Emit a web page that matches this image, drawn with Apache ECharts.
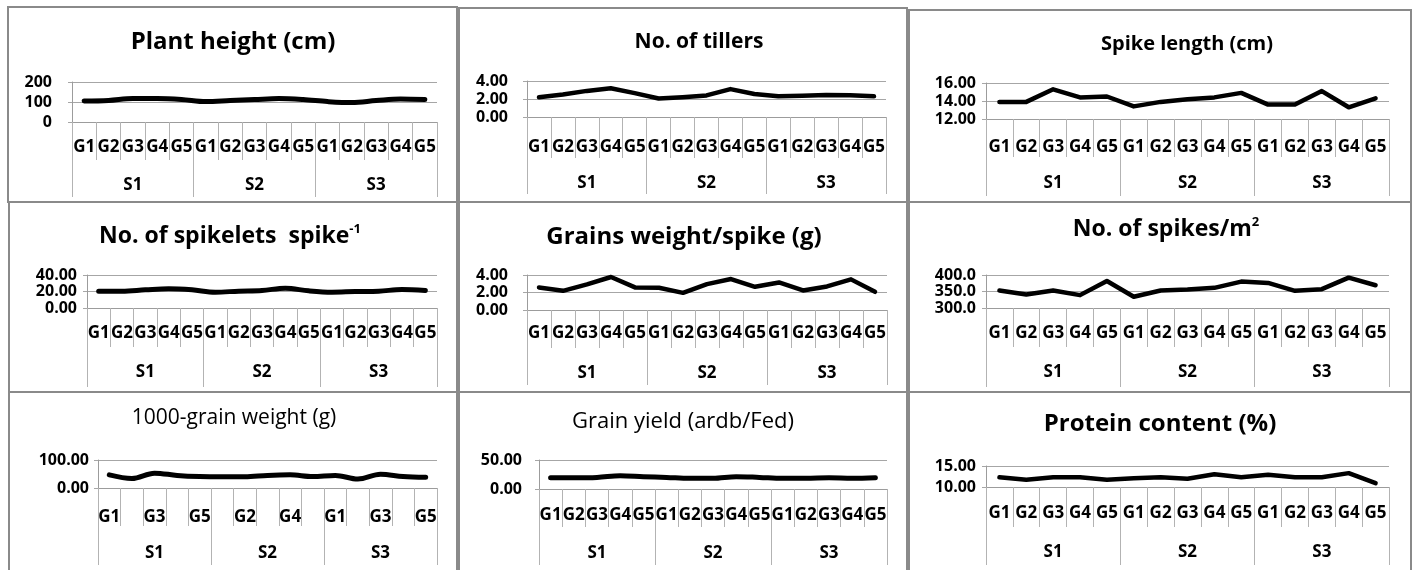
<!DOCTYPE html>
<html>
<head>
<meta charset="utf-8">
<script src="https://cdn.jsdelivr.net/npm/echarts@6/dist/echarts.min.js"></script>
<style>
  html, body { margin: 0; padding: 0; background: #fff; }
  #chart { width: 1420px; height: 570px; }
</style>
</head>
<body>
<div id="chart"></div>
<script>
// Category levels: genotypes nested inside sowing seasons
const genotypes = ['G1', 'G2', 'G3', 'G4', 'G5'];
const seasons = ['S1', 'S2', 'S3'];

// Trait means, ordered S1 G1..G5, S2 G1..G5, S3 G1..G5
const plantHeight       = [105, 108, 118, 118, 113, 102, 107, 112, 117, 112, 102, 97, 107, 115, 112];
const tillers           = [2.20, 2.50, 2.90, 3.20, 2.65, 2.05, 2.20, 2.40, 3.10, 2.55, 2.30, 2.35, 2.45, 2.42, 2.30];
const spikeLength       = [13.9, 13.9, 15.3, 14.4, 14.5, 13.4, 13.9, 14.2, 14.4, 14.9, 13.6, 13.6, 15.1, 13.3, 14.3];
const spikelets         = [20.4, 20.4, 22.0, 23.3, 22.0, 19.2, 20.4, 21.2, 24.0, 20.8, 19.2, 20.0, 20.4, 22.4, 21.2];
const grainsWeightSpike = [2.58, 2.19, 2.92, 3.77, 2.58, 2.54, 1.96, 2.96, 3.54, 2.65, 3.15, 2.23, 2.69, 3.50, 2.08];
const spikesPerM2       = [353, 341, 353, 339, 382, 334, 353, 356, 361, 380, 376, 352, 357, 392, 369];
const grainWeight1000   = [47, 34, 53, 45, 41, 40, 40, 45, 47, 41, 45, 32, 49, 41, 38];
const grainYield        = [19.5, 19.5, 20.0, 23.0, 21.3, 20.0, 18.4, 18.4, 21.3, 20.0, 18.4, 18.4, 19.5, 18.4, 19.5];
const proteinContent    = [12.3, 11.7, 12.3, 12.3, 11.7, 12.1, 12.3, 11.95, 13.05, 12.3, 12.9, 12.3, 12.3, 13.3, 10.9];

// Axis ranges and tick steps for each trait
const yMins  = [0, 0, 12, 0, 0, 300, 0, 0, 10];
const yMaxs  = [200, 4, 16, 40, 4, 400, 100, 50, 15];
const ySteps = [100, 2, 2, 20, 2, 50, 100, 50, 5];
const yDecimals = [0, 2, 2, 2, 2, 1, 2, 2, 2];

const genotypeLabels = seasons.flatMap(() => genotypes);

const FONT = '"Open Sans", "DejaVu Sans", sans-serif';
const GRID_GRAY = '#a6a6a6';
const AXIS_GRAY = '#9c9c9c';
const TICK_GRAY = '#b3b3b3';
const BORDER_GRAY = '#8a8a8a';

// Panel layout: plot box, title placement and label spacing
const panels = [
  { title: 'Plant height (cm)', values: plantHeight, tx: 233, ty: 42, tSize: 24, tWeight: 'bold',
    box: [72, 82, 365, 40], gMargin: 17, sMargin: 55, gTick: 38, sTick: 75, yMargin: 20, smooth: true, lw: 5 },
  { title: 'No. of tillers', values: tillers, tx: 699, ty: 42, tSize: 21, tWeight: 'bold',
    box: [527, 81, 359, 36], gMargin: 22, sMargin: 58, gTick: 41, sTick: 77, yMargin: 19, smooth: false, lw: 4.5 },
  { title: 'Spike length (cm)', values: spikeLength, tx: 1187, ty: 44, tSize: 20, tWeight: 'bold',
    box: [986, 83, 403, 36], gMargin: 20, sMargin: 56, gTick: 38, sTick: 77, yMargin: 10, smooth: false, lw: 4.5 },
  { title: 'No. of spikelets  spike{sup|-1}', values: spikelets, tx: 230, ty: 236, tSize: 23, tWeight: 'bold',
    box: [87, 275, 350, 33], gMargin: 17, sMargin: 56, gTick: 39, sTick: 79, yMargin: 10, smooth: true, lw: 5 },
  { title: 'Grains weight/spike (g)', values: grainsWeightSpike, tx: 684, ty: 237, tSize: 24, tWeight: 'bold',
    box: [527, 275, 360, 35], gMargin: 15, sMargin: 55, gTick: 38, sTick: 75, yMargin: 19, smooth: false, lw: 4.5 },
  { title: 'No. of spikes/m{sup|2}', values: spikesPerM2, tx: 1166, ty: 229, tSize: 23, tWeight: 'bold',
    box: [986, 275, 403, 33], gMargin: 17, sMargin: 56, gTick: 39, sTick: 79, yMargin: 10, smooth: false, lw: 4.5 },
  { title: '1000-grain weight (g)', values: grainWeight1000, tx: 234, ty: 418, tSize: 21, tWeight: 'normal',
    box: [98, 460, 339, 28], gMargin: 21, sMargin: 57, gTick: 38, sTick: 77, yMargin: 9, smooth: true, lw: 5, every: 1 },
  { title: 'Grain yield (ardb/Fed)', values: grainYield, tx: 683, ty: 422, tSize: 22, tWeight: 'normal',
    box: [539, 460, 348, 29], gMargin: 18, sMargin: 56, gTick: 38, sTick: 76, yMargin: 17, smooth: true, lw: 5 },
  { title: 'Protein content (%)', values: proteinContent, tx: 1160, ty: 424, tSize: 24, tWeight: 'bold',
    box: [986, 466, 403, 21], gMargin: 18, sMargin: 57, gTick: 40, sTick: 78, yMargin: 10, smooth: false, lw: 4.5 }
];

// Frames around each small chart
const frames = [
  [8, 7, 449, 195], [459, 8, 448, 194], [909, 10, 502, 192],
  [9, 202, 448, 190], [459, 202, 448, 190], [909, 202, 502, 190],
  [9, 392, 448, 190], [459, 392, 448, 190], [909, 392, 502, 190]
];

const labelStyle = { fontFamily: FONT, fontWeight: 'bold', fontSize: 17, color: '#000' };

const option = {
  animation: false,
  backgroundColor: '#fff',
  title: panels.map(p => ({
    text: p.title,
    left: p.tx,
    top: p.ty,
    padding: 0,
    textAlign: 'center',
    textVerticalAlign: 'middle',
    textStyle: {
      fontFamily: FONT, fontWeight: p.tWeight, fontSize: p.tSize, color: '#000', lineHeight: p.tSize + 4,
      rich: {
        sup: { fontFamily: FONT, fontWeight: p.tWeight, fontSize: Math.round(p.tSize * 0.55), color: '#000',
               verticalAlign: 'top', lineHeight: Math.round(p.tSize * 0.55) }
      }
    }
  })),
  grid: panels.map(p => ({ left: p.box[0], top: p.box[1], width: p.box[2], height: p.box[3], containLabel: false })),
  xAxis: panels.flatMap((p, i) => [
    {
      type: 'category', gridIndex: i, position: 'bottom', data: genotypeLabels, boundaryGap: true,
      axisLine: { show: true, onZero: false, lineStyle: { color: AXIS_GRAY, width: 1 } },
      axisTick: { show: true, interval: 0, length: p.gTick, lineStyle: { color: TICK_GRAY, width: 1 } },
      axisLabel: Object.assign({ interval: p.every || 0, margin: p.gMargin, hideOverlap: false }, labelStyle),
      splitLine: { show: false }
    },
    {
      type: 'category', gridIndex: i, position: 'bottom', data: seasons, boundaryGap: true,
      axisLine: { show: true, onZero: false, lineStyle: { color: AXIS_GRAY, width: 1 } },
      axisTick: { show: true, interval: 0, length: p.sTick, lineStyle: { color: TICK_GRAY, width: 1 } },
      axisLabel: Object.assign({ interval: 0, margin: p.sMargin }, labelStyle),
      splitLine: { show: false }
    }
  ]),
  yAxis: panels.map((p, i) => ({
    type: 'value', gridIndex: i,
    min: yMins[i], max: yMaxs[i], interval: ySteps[i],
    axisLine: { show: true, lineStyle: { color: AXIS_GRAY, width: 1 } },
    axisTick: { show: true, length: 4, lineStyle: { color: GRID_GRAY } },
    axisLabel: Object.assign({}, labelStyle, {
      fontSize: 16, lineHeight: 15, margin: p.yMargin, hideOverlap: false,
      showMinLabel: true, showMaxLabel: true,
      formatter: v => v.toFixed(yDecimals[i])
    }),
    splitLine: { show: true, lineStyle: { color: GRID_GRAY, width: 1 } }
  })),
  series: panels.map((p, i) => ({
    type: 'line', name: p.title, xAxisIndex: 2 * i, yAxisIndex: i,
    data: p.values, symbol: 'none', showSymbol: false, smooth: p.smooth ? 0.35 : false,
    lineStyle: { color: '#000', width: p.lw, cap: 'round', join: 'round' },
    silent: true, z: 5
  })),
  graphic: frames.map(f => ({
    type: 'rect', silent: true, z: 100,
    shape: { x: f[0], y: f[1], width: f[2], height: f[3] },
    style: { fill: 'none', stroke: BORDER_GRAY, lineWidth: 2 }
  }))
};

const chart = echarts.init(document.getElementById('chart'), null, { renderer: 'canvas' });
chart.setOption(option);
</script>
</body>
</html>
